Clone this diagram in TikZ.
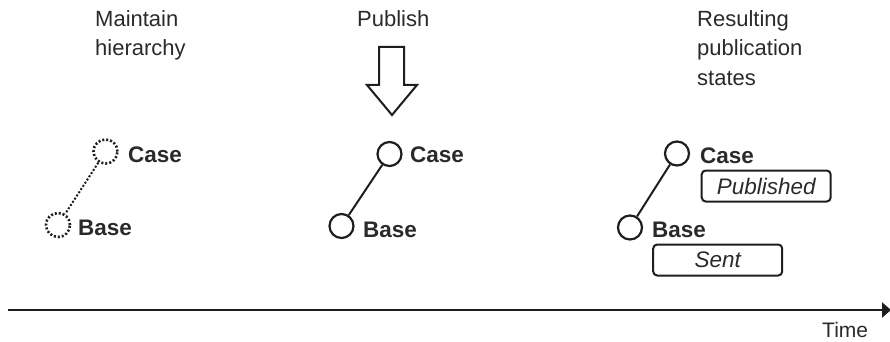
\documentclass[tikz,border=0pt]{standalone}
\usepackage{fontspec}
\setmainfont{Liberation Sans}
\usetikzlibrary{arrows.meta}
\definecolor{ink}{HTML}{1E1E1E}
\definecolor{txt}{HTML}{2A2A2A}
\tikzset{
  every node/.style={text=txt},
  toptext/.style={anchor=base west, inner sep=0pt, font=\fontsize{22}{26}\selectfont},
  lbl/.style={anchor=base west, inner sep=0pt, font=\fontsize{22.5}{26}\selectfont\bfseries},
  objc/.style={circle, draw=ink, line width=2.2pt, minimum size=24pt, inner sep=0pt},
  objdot/.style={objc, line width=2.6pt, dash pattern=on 2pt off 2pt},
  link/.style={draw=ink, line width=2pt},
  state/.style={draw=ink, line width=2pt, rounded corners=4pt, minimum width=129pt, minimum height=31pt, inner sep=0pt, font=\fontsize{22.5}{26}\selectfont\itshape},
}
\begin{document}
\begin{tikzpicture}[x=1pt,y=-1pt]
\useasboundingbox (0,0) rectangle (890,342);
% headings
\node[toptext] (h1a) at (95,27) {Maintain};
\node[toptext] (h1b) at (95,56) {hierarchy};
\node[toptext] (h2) at (357,27) {Publish};
\node[toptext] (h3a) at (697,27) {Resulting};
\node[toptext] (h3b) at (697,56) {publication};
\node[toptext] (h3c) at (697,85) {states};
% hollow arrow
\draw[draw=ink, line width=2pt, fill=white, line join=miter]
  (379,47) -- (404,47) -- (404,85) -- (417,85) -- (392,115) -- (367,85) -- (379,85) -- cycle;
% left group
\node[objdot] (lc) at (105.5,151.5) {};
\node[objdot] (lb) at (58,225) {};
\draw[ink, line width=2pt, dash pattern=on 2pt off 1.8pt] (lc) -- (lb);
\node[lbl] (lcl) at (128,162) {Case};
\node[lbl] (lbl) at (78,235) {Base};
% middle group
\node[objc] (mc) at (389.5,154) {};
\node[objc] (mb) at (341.5,226) {};
\draw[link] (mc) -- (mb);
\node[lbl] (mcl) at (410,162) {Case};
\node[lbl] (mbl) at (363,237) {Base};
% right group
\node[objc] (rc) at (677,153.5) {};
\node[objc] (rb) at (630,227.5) {};
\draw[link] (rc) -- (rb);
\node[lbl] (rcl) at (700,163) {Case};
\node[lbl] (rbl) at (652,237) {Base};
\node[state] (pub) at (766.2,186) {Published};
\node[state] (sent) at (717.7,260) {Sent};
% time axis
\coordinate (t0) at (8,310);
\coordinate (t1) at (891,310);
\draw[ink, line width=2.2pt, -{Triangle[length=9pt,width=15pt]}] (t0) -- (t1);
\node[anchor=base west, inner sep=0pt, font=\fontsize{21}{24}\selectfont] (time) at (822,337) {Time};
\end{tikzpicture}
\end{document}
